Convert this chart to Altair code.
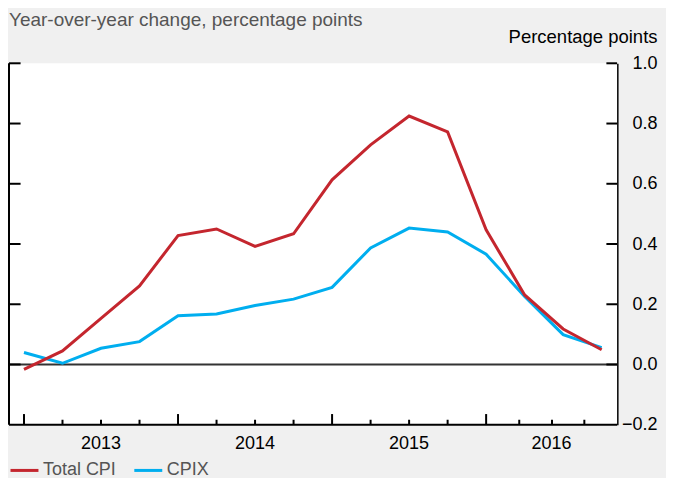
import altair as alt
import pandas as pd

# ---------------- data ----------------
quarters = ["2013Q1", "2013Q2", "2013Q3", "2013Q4",
            "2014Q1", "2014Q2", "2014Q3", "2014Q4",
            "2015Q1", "2015Q2", "2015Q3", "2015Q4",
            "2016Q1", "2016Q2", "2016Q3", "2016Q4"]
total_cpi = [-0.016, 0.045, 0.153, 0.261, 0.428, 0.450, 0.392, 0.434,
             0.613, 0.729, 0.825, 0.772, 0.447, 0.231, 0.118, 0.049]
cpix = [0.040, 0.004, 0.054, 0.076, 0.162, 0.168, 0.196, 0.217,
        0.256, 0.387, 0.453, 0.440, 0.366, 0.226, 0.099, 0.056]
series_names = ["Total CPI", "CPIX"]
series_colors = ["#c4262e", "#00aeef"]

year_labels = ["2013", "2014", "2015", "2016"]
year_label_pos = [2, 6, 10, 13.7]          # quarter-index positions of year labels
major_ticks = [0, 4, 8, 12]                # year starts
minor_ticks = [1, 2, 3, 5, 6, 7, 9, 10, 11, 12.86, 13.71, 14.55]
y_ticks = [-0.2, 0.0, 0.2, 0.4, 0.6, 0.8, 1.0]

# ---------------- layout constants ----------------
W, H = 609, 362
X_DOMAIN = [-0.389, 15.40]
Y_DOMAIN = [-0.2, 1.0]
FONT = "Liberation Sans"

px_x = (X_DOMAIN[1] - X_DOMAIN[0]) / W   # data units per pixel
px_y = (Y_DOMAIN[1] - Y_DOMAIN[0]) / H

n = len(quarters)
df = pd.DataFrame({
    "t": list(range(n)) * 2,
    "quarter": quarters * 2,
    "value": total_cpi + cpix,
    "series": [series_names[0]] * n + [series_names[1]] * n,
})

xs = alt.Scale(domain=X_DOMAIN, nice=False, zero=False)
ys = alt.Scale(domain=Y_DOMAIN, nice=False, zero=False)
cs = alt.Scale(domain=series_names, range=series_colors)

y_axis_right = alt.Axis(orient="right", values=y_ticks, format=".1f", ticks=False, tickSize=0,
                        domain=True, domainColor="black", domainWidth=2, grid=False,
                        labelFontSize=18, labelColor="black", labelAlign="right", labelPadding=40,
                        title="Percentage points", titleAngle=0, titleAlign="right",
                        titleBaseline="alphabetic", titleX=40, titleY=-21.3,
                        titleFontSize=18.5, titleFontWeight="normal", titleColor="black")


def Y(field):
    # every layer shares the same right-hand axis definition
    return alt.Y(field, scale=ys, axis=y_axis_right)


def X(field):
    return alt.X(field, scale=xs, axis=None)


legend = alt.Legend(orient="none", legendX=0, legendY=392, direction="horizontal",
                    title=None, symbolType="stroke", symbolSize=784, symbolStrokeWidth=3,
                    labelFontSize=18, labelColor="#555555", labelOffset=3, columnPadding=11,
                    padding=0)

# white plot background, spanning the scale domains
frame = pd.DataFrame({"x0": [X_DOMAIN[0]], "x1": [X_DOMAIN[1]],
                      "y0": [Y_DOMAIN[0]], "y1": [Y_DOMAIN[1]]})
plot_bg = alt.Chart(frame).mark_rect(color="white").encode(
    x=X("x0:Q"), x2="x1:Q", y=Y("y0:Q"), y2="y1:Q")

# left border and bottom axis line
left_border = alt.Chart(frame).mark_rule(color="black", strokeWidth=2).encode(
    x=X("x0:Q"), y=Y("y0:Q"), y2="y1:Q")
bottom_border = alt.Chart(frame).mark_rule(color="black", strokeWidth=2).encode(
    y=Y("y0:Q"), x=X("x0:Q"), x2="x1:Q")


def line_layer(name):
    return alt.Chart(df).transform_filter(alt.datum.series == name).mark_line(
        strokeWidth=3).encode(
        x=X("t:Q"),
        y=Y("value:Q"),
        color=alt.Color("series:N", scale=cs, legend=legend),
        detail="series:N",
    )


zero_line = alt.Chart(pd.DataFrame({"v": [0.0]})).mark_rule(color="#333333", strokeWidth=2).encode(
    y=Y("v:Q"))

xt = pd.DataFrame({"t": major_ticks + minor_ticks,
                   "major": [1] * len(major_ticks) + [0] * len(minor_ticks)})
x_tick_rules = alt.Chart(xt).transform_calculate(
    y0=f"{Y_DOMAIN[0]}",
    y1=f"{Y_DOMAIN[0]} + (datum.major == 1 ? {10.7 * px_y} : {5 * px_y})",
).mark_rule(color="black", strokeWidth=2).encode(
    x=X("t:Q"), y=Y("y0:Q"), y2="y1:Q",
)

yt_vals = [v for v in y_ticks if v > Y_DOMAIN[0]]
yt = pd.DataFrame({"y": yt_vals * 2, "side": ["left"] * len(yt_vals) + ["right"] * len(yt_vals)})
y_tick_rules = alt.Chart(yt).transform_calculate(
    x0=f"datum.side == 'left' ? {X_DOMAIN[0]} : {X_DOMAIN[1] - 10.7 * px_x}",
    x1=f"datum.side == 'left' ? {X_DOMAIN[0] + 11.6 * px_x} : {X_DOMAIN[1]}",
).mark_rule(color="black", strokeWidth=2).encode(
    y=Y("y:Q"), x=X("x0:Q"), x2="x1:Q",
)

# year labels below the axis line
yl = pd.DataFrame({"t": year_label_pos, "label": year_labels})
year_text = alt.Chart(yl).transform_calculate(y0=f"{Y_DOMAIN[0]}").mark_text(
    fontSize=18, color="black", baseline="alphabetic", align="center", dy=24.3).encode(
    x=X("t:Q"), y=Y("y0:Q"), text="label:N",
)

chart = alt.layer(
    plot_bg, zero_line, x_tick_rules, y_tick_rules, left_border, bottom_border,
    line_layer("CPIX"), line_layer("Total CPI"), year_text
).properties(
    width=W, height=H,
    padding={"left": 0, "top": 2, "right": 9, "bottom": 20},
    background="#f0f0f0",
    title=alt.TitleParams(text="Year-over-year change, percentage points", anchor="start",
                          fontSize=19, fontWeight="normal", color="#555555",
                          baseline="alphabetic", offset=4, dy=22, frame="group"),
).configure(font=FONT).configure_view(strokeWidth=0)

chart.save("out.html", embed_options={"renderer": "svg", "actions": False})
